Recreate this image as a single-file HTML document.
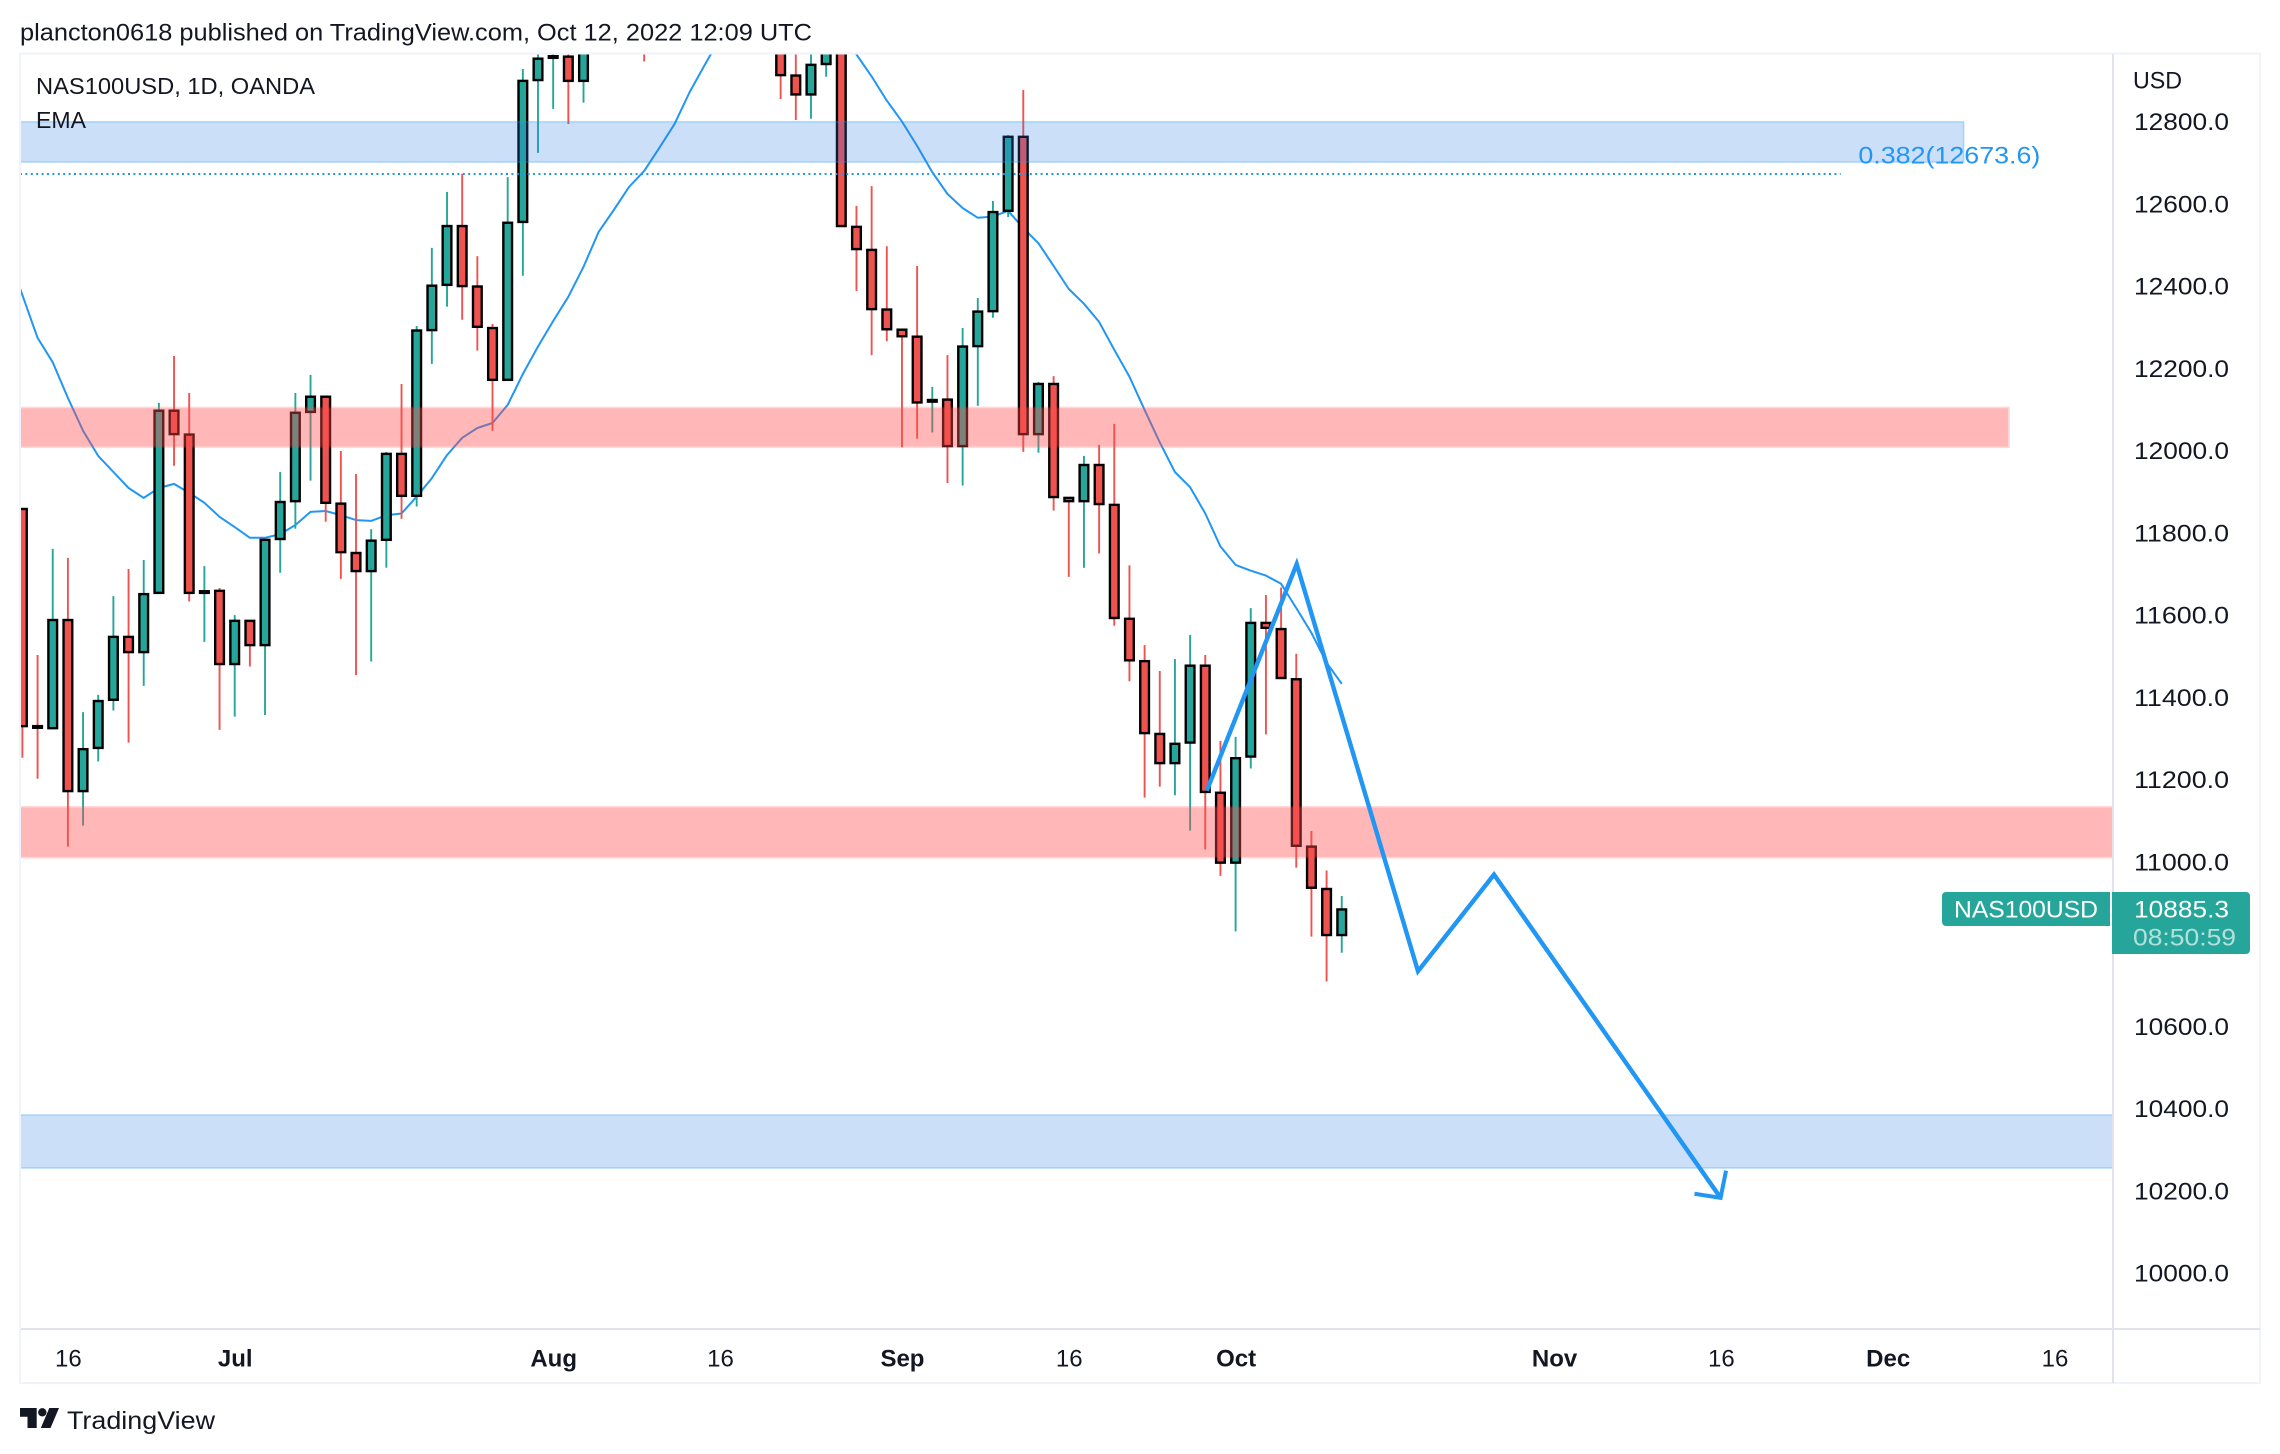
<!DOCTYPE html>
<html lang="en">
<head>
<meta charset="utf-8">
<title>NAS100USD, 1D, OANDA</title>
<style>
html,body{margin:0;padding:0;background:#fff;width:2280px;height:1454px;overflow:hidden}
svg{display:block;font-family:"Liberation Sans",sans-serif}
text{fill:#131722}
</style>
</head>
<body>
<svg id="chart" xmlns="http://www.w3.org/2000/svg" width="2280" height="1454" viewBox="0 0 2280 1454">
  <defs>
    <clipPath id="plot-clip"><rect x="21" y="54" width="2091" height="1274"/></clipPath>
  </defs>
  <rect x="0" y="0" width="2280" height="1454" fill="#ffffff"/>
  <text x="20" y="40.5" font-size="24" textLength="792" lengthAdjust="spacingAndGlyphs">plancton0618 published on TradingView.com, Oct 12, 2022 12:09 UTC</text>
  <g id="plot" clip-path="url(#plot-clip)">
    <g id="ema-layer"></g>
    <g id="candle-layer"></g>
    <g id="zone-layer"></g>
    <g id="fib-layer"></g>
    <g id="drawing-layer"></g>
  </g>
  <text x="36" y="94" font-size="23.5" textLength="279" lengthAdjust="spacingAndGlyphs">NAS100USD, 1D, OANDA</text>
  <text x="36" y="128" font-size="23.5" textLength="50" lengthAdjust="spacingAndGlyphs">EMA</text>
  <g id="frame" fill="none">
    <rect x="20" y="53.5" width="2240" height="1329.5" stroke="#f0f3fa" stroke-width="2"/>
    <line x1="2113" y1="54" x2="2113" y2="1383" stroke="#e0e3eb" stroke-width="2"/>
    <line x1="21" y1="1329" x2="2260" y2="1329" stroke="#e0e3eb" stroke-width="2"/>
  </g>
  <text x="2133" y="88.5" font-size="24" textLength="49" lengthAdjust="spacingAndGlyphs">USD</text>
  <g id="price-axis"></g>
  <g id="time-axis"></g>
  <g id="last-price">
    <path d="M1946 892H2110V926H1946a4 4 0 0 1-4-4V896a4 4 0 0 1 4-4Z" fill="#26a69a"/>
    <text x="1954" y="917.5" font-size="24" textLength="144" lengthAdjust="spacingAndGlyphs" style="fill:#ffffff">NAS100USD</text>
    <path d="M2112 892H2246a4 4 0 0 1 4 4V950a4 4 0 0 1-4 4H2112Z" fill="#26a69a"/>
    <text x="2134" y="917.5" font-size="24" textLength="95" lengthAdjust="spacingAndGlyphs" style="fill:#ffffff">10885.3</text>
    <text x="2133" y="945.5" font-size="24" textLength="103" lengthAdjust="spacingAndGlyphs" style="fill:#ffffff;fill-opacity:.65">08:50:59</text>
  </g>
  <g id="tv-logo">
    <path d="M20 1408H36.7V1428H27.5V1416.8H20Z" fill="#131722"/>
    <circle cx="42.3" cy="1412.3" r="4.2" fill="#131722"/>
    <path d="M49.3 1408H59L50.5 1428H40.8Z" fill="#131722"/>
    <text x="67" y="1429" font-size="25" textLength="148" lengthAdjust="spacingAndGlyphs">TradingView</text>
  </g>
</svg>
<script>
// Candle data, one entry per weekday starting Jun 13 2022 (bar 0)
const opens = [11859,11331,11326,11589,11173,11278,11395,11548,11511,11655,12098,12040,11655,11660,11482,11587,11528,11786,11878,12095,12132,11872,11752,11708,11784,11993,11891,12294,12404,12547,12400,12299,12173,12557,12902,12956,12959,12900,13010,13030,13100,13110,13060,13290,13340,13400,13450,13530,13490,13300,13150,12913,12867,12941,13060,12545,12489,12344,12295,12278,12120,12125,12012,12255,12340,12584,12764,12041,12163,11886,11878,11966,11869,11592,11489,11312,11241,11291,11478,11169,10999,11257,11582,11567,11445,11038,10935,10823];
const highs = [11859,11504,11762,11740,11365,11407,11647,11713,11735,12117,12231,12141,11720,11667,11601,11587,11784,11949,12141,12185,12132,12000,11944,11810,11998,12163,12304,12494,12630,12674,12474,12309,12666,12929,13000,13010,13020,13040,13060,13120,13180,13130,13320,13380,13420,13480,13560,13600,13520,13340,13170,13010,13000,13080,13090,12596,12644,12498,12295,12450,12156,12233,12299,12372,12608,12768,12878,12168,12182,11886,11988,12015,12066,11722,11528,11465,11494,11553,11504,11295,11305,11618,11650,11668,11507,11076,10980,10918];
const lows = [11254,11203,11326,11038,11089,11245,11369,11291,11429,11655,11964,11634,11536,11322,11354,11476,11358,11704,11811,11928,11828,11689,11455,11488,11716,11835,11865,12212,12351,12319,12244,12049,12173,12426,12725,12832,12795,12847,12975,12990,13020,12947,13050,13240,13300,13370,13420,13450,13280,13120,12856,12805,12808,12910,12547,12389,12233,12267,12009,12030,12045,11922,11916,12110,12324,12569,11998,11996,11855,11694,11716,11751,11575,11440,11157,11184,11163,11077,11031,10967,10832,11228,11311,11448,10987,10819,10710,10780];
const closes = [11331,11327,11589,11173,11275,11392,11548,11511,11652,12098,12041,11655,11659,11482,11587,11528,11784,11876,12093,12132,11874,11754,11708,11782,11993,11891,12293,12402,12547,12401,12302,12173,12555,12900,12954,12960,12900,13010,13030,13100,13110,13060,13290,13340,13400,13450,13530,13490,13300,13150,12914,12867,12939,13060,12547,12491,12345,12296,12279,12118,12124,12012,12254,12339,12581,12764,12041,12163,11888,11878,11966,11871,11594,11491,11314,11241,11288,11478,11171,10999,11253,11582,11570,11448,11040,10938,10823,10885.3];
// EMA values, starting one bar before the first visible candle
const emaFirstBar = -1;
const emaValues = [12484,12379,12275,12216,12129,12049,11988,11949,11910,11886,11910,11920,11898,11874,11840,11815,11789,11789,11798,11820,11852,11854,11844,11832,11830,11844,11848,11889,11934,11990,12032,12056,12068,12112,12187,12254,12316,12375,12448,12533,12586,12642,12681,12737,12795,12873,12939,13004,13043,13068,13082,13092,13097,13085,13060,13019,12964,12911,12852,12801,12742,12678,12625,12591,12567,12570,12584,12542,12505,12450,12394,12358,12314,12246,12181,12100,12021,11949,11912,11848,11768,11723,11709,11697,11677,11618,11558,11485,11434];
// Axis ticks
const priceTicks = [12800,12600,12400,12200,12000,11800,11600,11400,11200,11000,10600,10400,10200,10000];
const timeLabels = ['16','Jul','Aug','16','Sep','16','Oct','Nov','16','Dec','16'];
const timeLabelBars = [3,14,35,46,58,69,80,101,112,123,134];
const timeLabelIsMonth = [false,true,true,false,true,false,true,true,false,true,false];
// Support / resistance zones, in price and bar units
const zoneTops = [12800,12106,11135,10385];
const zoneBottoms = [12703,12009,11011,10257];
const zoneEndBars = [128,131,140,140];
const zoneKinds = ['blue','red','red','blue'];
// Fibonacci level
const fibPrice = 12673.6;
const fibEndBar = 119.9;
const fibLabel = '0.382(12673.6)';
const fibLabelBar = 121;
// Hand-drawn projection path
const pathBars = [78.1,84.03,92.03,97.04,111.98];
const pathPrices = [11174,11725,10735,10970,10184];
const arrowWingBars = [110.26,112.34];
const arrowWingPrices = [10194,10250];

const SVGNS = 'http://www.w3.org/2000/svg';
const barStart = 22.4, barStep = 15.165;
const priceAt12800 = 122, pxPerPrice = 0.41125;
const plotLeft = 20;
function xScale(bar){ return barStart + bar * barStep; }
function yScale(price){ return priceAt12800 + (12800 - price) * pxPerPrice; }
function make(tag, parent){
  const el = document.createElementNS(SVGNS, tag);
  parent.appendChild(el);
  return el;
}
function attrs(el, map){
  for (const k in map) el.setAttribute(k, map[k]);
}

// EMA line
const emaLayer = document.getElementById('ema-layer');
const emaLine = make('polyline', emaLayer);


attrs(emaLine, {
  points: emaValues.map((v, i) => xScale(i + emaFirstBar).toFixed(1) + ',' + yScale(v).toFixed(1)).join(' '),
  fill: 'none', stroke: '#2196f3', 'stroke-width': 2, 'stroke-linejoin': 'round'
});

// Candles
const candleLayer = document.getElementById('candle-layer');
opens.forEach((open, i) => {
  const close = closes[i];
  const up = close >= open;
  const color = up ? '#26a69a' : '#ef5350';
  const cx = xScale(i);
  const group = make('g', candleLayer);
  
  
  const wick = make('line', group);
  
  
  attrs(wick, { x1: cx, x2: cx, y1: yScale(highs[i]), y2: yScale(lows[i]), stroke: color, 'stroke-width': 1.9 });
  const body = make('rect', group);
  
  
  const top = yScale(Math.max(open, close));
  const bottom = yScale(Math.min(open, close));
  attrs(body, {
    x: cx - 4.35, width: 8.7, y: top, height: Math.max(bottom - top, 0.5),
    fill: color, stroke: '#000000', 'stroke-width': 2.4
  });
});

// Zones
const zoneLayer = document.getElementById('zone-layer');
zoneTops.forEach((topPrice, i) => {
  const yTop = yScale(topPrice);
  const yBottom = yScale(zoneBottoms[i]);
  const xEnd = xScale(zoneEndBars[i]);
  const isBlue = zoneKinds[i] === 'blue';
  const fill = make('rect', zoneLayer);
  
  
  attrs(fill, {
    x: plotLeft, y: yTop + 0.8, width: xEnd - plotLeft - 0.8, height: yBottom - yTop - 1.6,
    fill: isBlue ? 'rgba(41,121,230,.24)' : 'rgba(255,75,75,.40)'
  });
  const edge = make('rect', zoneLayer);
  
  
  attrs(edge, {
    x: plotLeft - 2, y: yTop, width: xEnd - plotLeft + 2, height: yBottom - yTop,
    fill: 'none', stroke: isBlue ? 'rgba(33,150,243,.42)' : 'rgba(255,82,82,.22)', 'stroke-width': 1.6
  });
});

// Fibonacci level
const fibLayer = document.getElementById('fib-layer');
const fibLine = make('line', fibLayer);


attrs(fibLine, {
  x1: plotLeft, x2: xScale(fibEndBar), y1: yScale(fibPrice), y2: yScale(fibPrice),
  stroke: '#2196f3', 'stroke-width': 2, 'stroke-dasharray': '2 3.4'
});
const fibText = make('text', fibLayer);


attrs(fibText, {
  x: xScale(fibLabelBar) + 1, y: 163.5, 'font-size': 24,
  textLength: 182, lengthAdjust: 'spacingAndGlyphs', style: 'fill:#2196f3'
});
fibText.textContent = fibLabel;

// Projection path
const drawingLayer = document.getElementById('drawing-layer');
const pathLine = make('polyline', drawingLayer);


attrs(pathLine, {
  points: pathBars.map((b, i) => xScale(b).toFixed(1) + ',' + yScale(pathPrices[i]).toFixed(1)).join(' '),
  fill: 'none', stroke: '#2196f3', 'stroke-width': 4.4, 'stroke-linejoin': 'miter'
});
const tipBar = pathBars[pathBars.length - 1];
const tipPrice = pathPrices[pathPrices.length - 1];
const arrowHead = make('polyline', drawingLayer);


attrs(arrowHead, {
  points: [
    xScale(arrowWingBars[0]) + ',' + yScale(arrowWingPrices[0]),
    xScale(tipBar) + ',' + yScale(tipPrice),
    xScale(arrowWingBars[1]) + ',' + yScale(arrowWingPrices[1])
  ].join(' '),
  fill: 'none', stroke: '#2196f3', 'stroke-width': 4
});

// Price axis
const priceAxis = document.getElementById('price-axis');
priceTicks.forEach(tick => {
  const t = make('text', priceAxis);
  
  
  attrs(t, {
    x: 2134, y: yScale(tick) + 8.2, 'font-size': 24,
    textLength: 95, lengthAdjust: 'spacingAndGlyphs'
  });
  t.textContent = tick.toFixed(1);
});

// Time axis
const timeAxis = document.getElementById('time-axis');
timeLabels.forEach((label, i) => {
  const t = make('text', timeAxis);
  
  
  attrs(t, {
    x: xScale(timeLabelBars[i]) + 0.5, y: 1366.5, 'font-size': 24, 'text-anchor': 'middle',
    'font-weight': timeLabelIsMonth[i] ? 'bold' : 'normal'
  });
  t.textContent = label;
});
</script>
</body>
</html>
